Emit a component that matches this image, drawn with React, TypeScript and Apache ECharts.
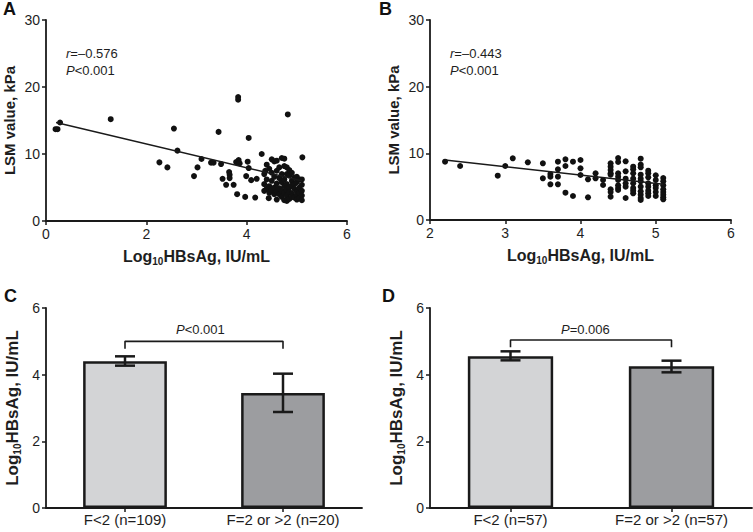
import React, { useEffect, useRef } from "react";
import * as echarts from "echarts";

const FONT = "'Liberation Sans', Arial, Helvetica, sans-serif";
const INK = "#1a1a1a";

// Panel A scatter: [log10 HBsAg, LSM kPa]
const scatterA: number[][] = [
  [0.19, 13.7], [0.23, 13.7], [0.28, 14.7], [1.29, 15.2], [2.26, 8.75], [2.42, 8.0], [2.55, 13.8],
  [2.62, 10.5], [2.95, 6.7], [3.02, 8.0], [3.1, 9.25], [3.29, 8.7], [3.34, 8.7], [3.44, 13.3],
  [3.49, 8.5], [3.52, 6.3], [3.59, 5.4], [3.65, 7.3], [3.66, 6.9], [3.66, 6.4], [3.74, 5.4],
  [3.81, 4.0], [3.79, 8.8], [3.84, 9.1], [3.86, 8.6], [3.83, 18.5], [3.83, 18.1], [3.97, 3.6],
  [3.99, 6.7], [4.02, 8.85], [4.04, 12.4], [4.04, 7.9], [4.09, 6.1], [4.17, 3.5], [4.2, 6.3],
  [4.3, 10.0], [4.37, 7.5], [4.4, 8.4], [4.44, 3.4], [4.82, 15.9], [5.11, 9.5],
  [4.35, 7.0], [4.35, 5.5], [4.35, 4.5], [4.4, 6.2], [4.4, 4.8], [4.45, 7.8], [4.45, 5.2], [4.45, 4.2],
  [4.5, 9.2], [4.5, 7.2], [4.5, 6.0], [4.5, 4.6], [4.55, 8.9], [4.55, 6.6], [4.55, 5.0], [4.55, 4.0],
  [4.6, 9.0], [4.6, 7.5], [4.6, 5.6], [4.6, 4.4], [4.6, 3.2], [4.65, 8.0], [4.65, 6.4], [4.65, 4.9],
  [4.65, 4.0], [4.7, 9.4], [4.7, 7.0], [4.7, 5.8], [4.7, 4.5], [4.7, 3.6], [4.75, 9.3], [4.75, 8.2],
  [4.75, 6.2], [4.75, 5.2], [4.75, 4.2], [4.75, 3.1], [4.8, 8.0], [4.8, 7.0], [4.8, 5.5], [4.8, 4.6],
  [4.8, 3.8], [4.8, 3.0], [4.85, 7.6], [4.85, 6.8], [4.85, 5.0], [4.85, 4.3], [4.85, 3.3], [4.9, 7.2],
  [4.9, 6.0], [4.9, 5.3], [4.9, 4.1], [4.9, 3.6], [4.95, 6.5], [4.95, 5.5], [4.95, 4.8], [4.95, 3.5],
  [5.0, 6.6], [5.0, 5.8], [5.0, 4.4], [5.0, 3.9], [5.0, 3.2], [5.05, 6.2], [5.05, 5.0], [5.05, 4.2],
  [5.05, 3.4], [5.1, 6.2], [5.1, 5.4], [5.1, 4.5], [5.1, 3.8], [5.1, 3.1],
];
const fitA: number[][] = [[0.2, 14.7], [5.1, 6.0]];

// Panel B scatter
const scatterB: number[][] = [
  [2.2, 8.75], [2.4, 8.1], [2.9, 6.65], [3.0, 8.1], [3.1, 9.25], [3.3, 8.65], [3.5, 8.5], [3.5, 6.25],
  [3.6, 6.9], [3.6, 6.5], [3.6, 5.35], [3.7, 8.75], [3.7, 7.6], [3.7, 6.5], [3.7, 5.35], [3.8, 9.1],
  [3.8, 8.1], [3.8, 4.1], [3.9, 8.75], [3.9, 3.6], [4.0, 9.0], [4.0, 7.75], [4.0, 6.75], [4.1, 6.1],
  [4.1, 3.4], [4.2, 7.0], [4.2, 6.25], [4.3, 6.0], [4.3, 5.25],
  [4.4, 8.5], [4.4, 8.0], [4.4, 7.5], [4.4, 7.0], [4.4, 6.8], [4.4, 4.6], [4.4, 4.2], [4.4, 3.5],
  [4.5, 9.3], [4.5, 8.7], [4.5, 7.0], [4.5, 6.5], [4.5, 6.0], [4.5, 5.2], [4.5, 4.8], [4.5, 4.5],
  [4.6, 8.8], [4.6, 7.3], [4.6, 6.2], [4.6, 5.5], [4.6, 5.0], [4.6, 3.3],
  [4.7, 8.0], [4.7, 7.6], [4.7, 7.0], [4.7, 6.2], [4.7, 5.5], [4.7, 4.8], [4.7, 4.4], [4.7, 4.0],
  [4.8, 9.2], [4.8, 8.3], [4.8, 7.9], [4.8, 6.8], [4.8, 6.2], [4.8, 5.8], [4.8, 5.0], [4.8, 4.3],
  [4.8, 3.8], [4.8, 3.3], [4.8, 3.0],
  [4.9, 7.4], [4.9, 7.0], [4.9, 6.4], [4.9, 5.5], [4.9, 5.0], [4.9, 4.4], [4.9, 4.0], [4.9, 3.6],
  [5.0, 6.7], [5.0, 6.0], [5.0, 5.2], [5.0, 4.8], [5.0, 4.2], [5.0, 3.6],
  [5.1, 6.3], [5.1, 5.8], [5.1, 5.2], [5.1, 4.6], [5.1, 4.2], [5.1, 3.8], [5.1, 3.4], [5.1, 3.1],
];
const fitB: number[][] = [[2.2, 9.0], [5.1, 5.35]];

// Panel C bars
const catsC = ["F<2 (n=109)", "F=2 or >2 (n=20)"];
const meanC = [4.4, 3.45];
const lowC = [4.27, 2.88];
const highC = [4.55, 4.03];
const bracketC = [[0, 4.78], [0, 5.0], [1, 5.0], [1, 4.78]];

// Panel D bars
const catsD = ["F<2 (n=57)", "F=2 or >2 (n=57)"];
const meanD = [4.55, 4.25];
const lowD = [4.43, 4.07];
const highD = [4.7, 4.42];
const bracketD = [[0, 4.82], [0, 5.04], [1, 5.04], [1, 4.82]];

const barColors = ["#d3d4d6", "#9c9da0"];

const axisLine = { show: true, lineStyle: { color: INK, width: 1.8 } };
const axisTick = { show: true, inside: false, length: 4, lineStyle: { color: INK, width: 1.5 } };
const tickLabel = { fontFamily: FONT, fontSize: 14, color: "#1e1e1e", margin: 6 };

const logRich = (size: number) => ({
  b: { fontFamily: FONT, fontWeight: "bold", fontSize: size, color: "#1e1e1e", lineHeight: 20, verticalAlign: "middle" },
  s: { fontFamily: FONT, fontWeight: "bold", fontSize: Math.round(size * 0.6), color: "#1e1e1e", lineHeight: 8, verticalAlign: "bottom" },
});
const logName = "{b|Log}{s|10}{b|HBsAg, IU/mL}";

const errorBarSeries = (idx: number, lows: number[], highs: number[]) => ({
  type: "custom",
  xAxisIndex: idx,
  yAxisIndex: idx,
  z: 5,
  data: lows.map((l, i) => [i, l, highs[i]]),
  renderItem: (_p: any, api: any) => {
    const i = api.value(0);
    const lo = api.coord([i, api.value(1)]);
    const hi = api.coord([i, api.value(2)]);
    const half = 10;
    const st = { stroke: INK, lineWidth: 2.5 };
    return {
      type: "group",
      children: [
        { type: "line", shape: { x1: lo[0], y1: lo[1], x2: hi[0], y2: hi[1] }, style: st },
        { type: "line", shape: { x1: lo[0] - half, y1: lo[1], x2: lo[0] + half, y2: lo[1] }, style: st },
        { type: "line", shape: { x1: hi[0] - half, y1: hi[1], x2: hi[0] + half, y2: hi[1] }, style: st },
      ],
    };
  },
});

const barSeries = (idx: number, means: number[]) => ({
  type: "bar",
  xAxisIndex: idx,
  yAxisIndex: idx,
  barWidth: "53%",
  data: means.map((v, i) => ({
    value: v,
    itemStyle: { color: barColors[i], borderColor: INK, borderWidth: 2.5 },
  })),
});

const lineSeries = (idx: number, data: number[][], width: number) => ({
  type: "line",
  xAxisIndex: idx,
  yAxisIndex: idx,
  data,
  symbol: "none",
  lineStyle: { color: INK, width },
  z: 4,
});

const scatterSeries = (idx: number, data: number[][]) => ({
  type: "scatter",
  xAxisIndex: idx,
  yAxisIndex: idx,
  data,
  symbolSize: 6,
  itemStyle: { color: "#111", opacity: 1 },
});

const annot = (left: number, top: number, italic: string, rest: string) => ({
  type: "text",
  left,
  top,
  style: {
    text: `{i|${italic}}{n|${rest}}`,
    rich: {
      i: { fontFamily: FONT, fontSize: 13, fontStyle: "italic", fill: "#1e1e1e" },
      n: { fontFamily: FONT, fontSize: 13, fill: "#1e1e1e" },
    },
  },
});

const panelLabel = (left: number, top: number, t: string) => ({
  type: "text",
  left,
  top,
  style: { text: t, fontFamily: FONT, fontSize: 18, fontWeight: "bold", fill: "#111" },
});

export default function App() {
  const ref = useRef<HTMLDivElement>(null);
  useEffect(() => {
    if (!ref.current) return;
    document.body.style.margin = "0";
    const chart = echarts.init(ref.current, null, { renderer: "svg" });
    const option: any = {
      animation: false,
      backgroundColor: "#ffffff",
      grid: [
        { left: 46, top: 20, width: 301, height: 201 },
        { left: 430, top: 20, width: 301, height: 200 },
        { left: 46, top: 308, width: 316, height: 200 },
        { left: 430, top: 308, width: 322, height: 200 },
      ],
      xAxis: [
        {
          type: "value", gridIndex: 0, min: 0, max: 6, interval: 2,
          axisLine, axisTick, axisLabel: tickLabel, splitLine: { show: false },
          name: logName, nameLocation: "middle", nameGap: 25,
          nameTextStyle: { rich: logRich(16) },
        },
        {
          type: "value", gridIndex: 1, min: 2, max: 6, interval: 1,
          axisLine, axisTick, axisLabel: tickLabel, splitLine: { show: false },
          name: logName, nameLocation: "middle", nameGap: 25,
          nameTextStyle: { rich: logRich(16) },
        },
        {
          type: "category", gridIndex: 2, data: catsC,
          axisLine, axisTick: { ...axisTick, alignWithLabel: true },
          axisLabel: { ...tickLabel, fontSize: 15, margin: 4 },
        },
        {
          type: "category", gridIndex: 3, data: catsD,
          axisLine, axisTick: { ...axisTick, alignWithLabel: true },
          axisLabel: { ...tickLabel, fontSize: 15, margin: 4 },
        },
      ],
      yAxis: [
        {
          type: "value", gridIndex: 0, min: 0, max: 30, interval: 10,
          axisLine, axisTick, axisLabel: tickLabel, splitLine: { show: false },
          name: "LSM value, kPa", nameLocation: "middle", nameGap: 29,
          nameTextStyle: { fontFamily: FONT, fontWeight: "bold", fontSize: 15, color: "#1e1e1e" },
        },
        {
          type: "value", gridIndex: 1, min: 0, max: 30, interval: 10,
          axisLine, axisTick, axisLabel: tickLabel, splitLine: { show: false },
          name: "LSM value, kPa", nameLocation: "middle", nameGap: 29,
          nameTextStyle: { fontFamily: FONT, fontWeight: "bold", fontSize: 15, color: "#1e1e1e" },
        },
        {
          type: "value", gridIndex: 2, min: 0, max: 6, interval: 2,
          axisLine, axisTick, axisLabel: tickLabel, splitLine: { show: false },
          name: logName, nameLocation: "middle", nameGap: 24,
          nameTextStyle: { rich: logRich(17) },
        },
        {
          type: "value", gridIndex: 3, min: 0, max: 6, interval: 2,
          axisLine, axisTick, axisLabel: tickLabel, splitLine: { show: false },
          name: logName, nameLocation: "middle", nameGap: 24,
          nameTextStyle: { rich: logRich(17) },
        },
      ],
      series: [
        scatterSeries(0, scatterA),
        lineSeries(0, fitA, 1.5),
        scatterSeries(1, scatterB),
        lineSeries(1, fitB, 1.5),
        barSeries(2, meanC),
        errorBarSeries(2, lowC, highC),
        lineSeries(2, bracketC, 1.6),
        barSeries(3, meanD),
        errorBarSeries(3, lowD, highD),
        lineSeries(3, bracketD, 1.6),
      ],
      graphic: [
        panelLabel(3, 0, "A"),
        panelLabel(379, 0, "B"),
        panelLabel(4, 287, "C"),
        panelLabel(382, 287, "D"),
        annot(66, 47, "r", "=\u20130.576"),
        annot(66, 64, "P", "<0.001"),
        annot(450, 47, "r", "=\u20130.443"),
        annot(450, 64, "P", "<0.001"),
        annot(176, 323, "P", "<0.001"),
        annot(561, 323, "P", "=0.006"),
      ],
    };
    chart.setOption(option);
    return () => chart.dispose();
  }, []);
  return <div ref={ref} style={{ width: 753, height: 532 }} />;
}
